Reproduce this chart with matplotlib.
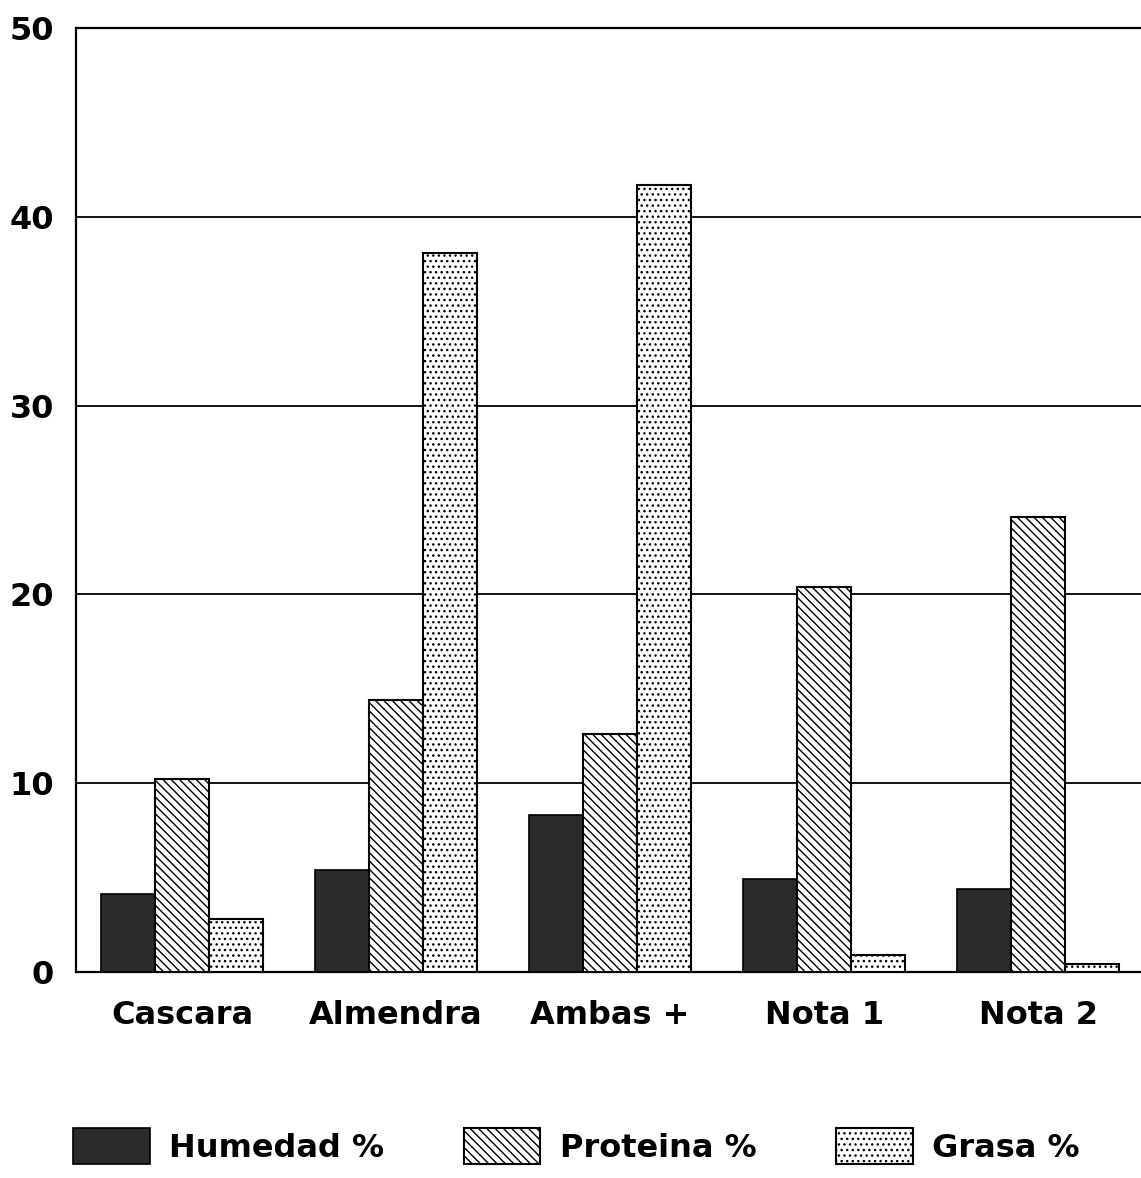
import numpy as np
import matplotlib
matplotlib.use("Agg")
import matplotlib.pyplot as plt

# data
categories = ["Cascara", "Almendra", "Ambas +", "Nota 1", "Nota 2"]
humedad = [4.1, 5.4, 8.3, 4.9, 4.4]
proteina = [10.2, 14.4, 12.6, 20.4, 24.1]
grasa = [2.8, 38.1, 41.7, 0.9, 0.4]
yticks = [0, 10, 20, 30, 40, 50]

plt.rcParams['hatch.linewidth'] = 1.0
plt.rcParams['font.family'] = 'DejaVu Sans'

fig = plt.figure(figsize=(11.41, 11.78), dpi=100)
ax = fig.add_axes([0.0666, 0.175, 0.9334, 0.801])

x = np.arange(len(categories))
w = 0.252
ax.bar(x - w, humedad, w, color='#2b2b2b', edgecolor='black', linewidth=1.2, label='Humedad %', zorder=3)
ax.bar(x, proteina, w, color='white', edgecolor='black', hatch='\\\\\\\\', linewidth=1.5, label='Proteina %', zorder=3)
ax.bar(x + w, grasa, w, color='white', edgecolor='black', hatch='...', linewidth=1.5, label='Grasa %', zorder=3)

ax.set_xlim(-0.495, 4.48)
ax.set_ylim(0, 50)
ax.set_yticks(yticks)
ax.set_xticks(x)
ax.set_xticklabels(categories)
ax.tick_params(length=0, labelsize=23)
for lab in ax.get_xticklabels() + ax.get_yticklabels():
    lab.set_fontweight('bold')
ax.tick_params(axis='y', pad=16)
ax.tick_params(axis='x', pad=20)

for v in yticks[1:-1]:
    ax.axhline(v, color='black', linewidth=1.3, zorder=1)
for s in ['left', 'top', 'bottom']:
    ax.spines[s].set_linewidth(1.6)
ax.spines['right'].set_visible(False)

fig.legend(loc='center', bbox_to_anchor=(0.505, 0.027), ncol=3, frameon=False,
           handlelength=2.4, handleheight=1.35, columnspacing=2.5, handletextpad=0.6,
           prop={'size': 23, 'weight': 'bold'})

fig.savefig("out.png", dpi=100)
